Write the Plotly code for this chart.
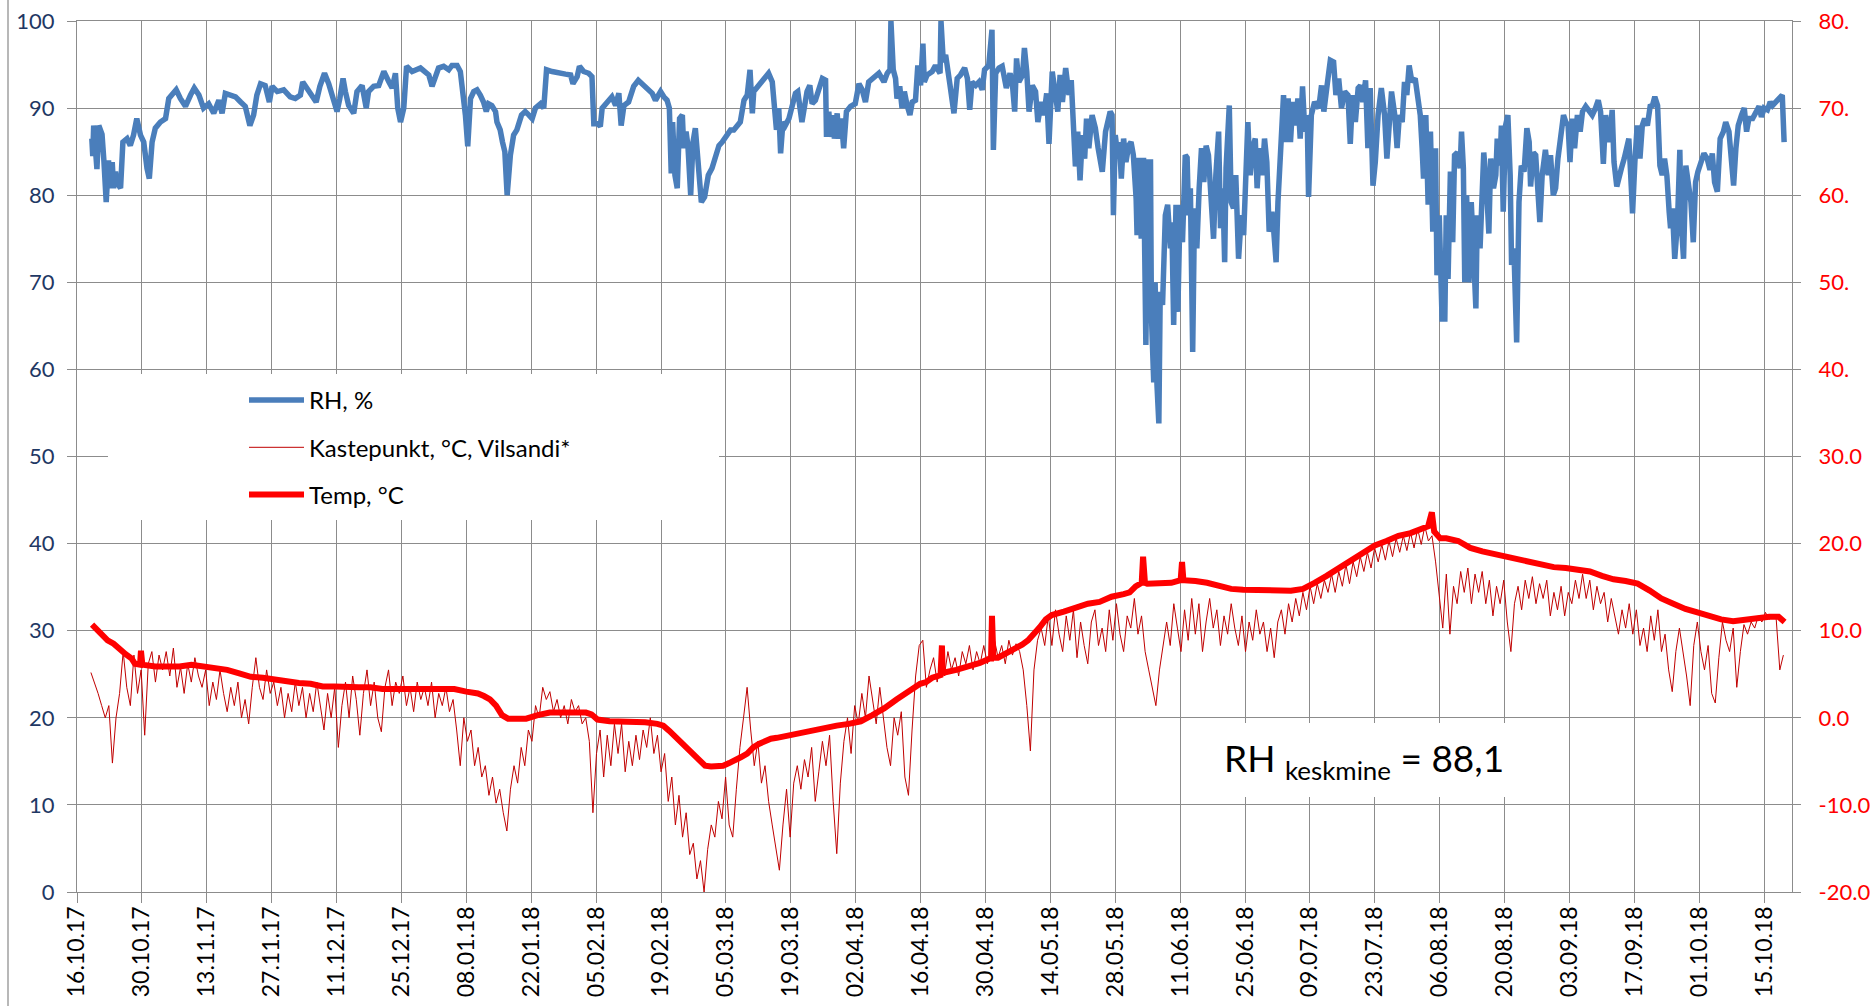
import pandas as pd
import plotly.graph_objects as go

START = "2017-10-16"
END = "2018-10-21"

# ---- RH, % (left axis) : day offset from 16.10.17, value ----
rh_day = [3.2, 3.4, 3.6, 4.3, 4.7, 5.4, 5.8, 6.3, 6.8, 7.2, 7.6, 7.9, 8.3, 8.6, 9.4, 9.9, 10.8, 11.5, 12.2, 12.9,
          13.7, 14.4, 15.1, 15.6, 16.2, 16.9, 18.0, 19.1, 19.8, 20.5, 21.4, 22.3, 23.4, 24.5, 25.3, 26.3, 27.3,
          28.4, 29.5, 30.6, 31.3, 32.0, 33.1, 34.2, 35.3, 36.3, 37.3, 38.1, 38.8, 39.6, 40.6, 41.5, 42.1, 43.2,
          44.6, 46.0, 47.1, 48.2, 48.7, 49.6, 50.4, 51.6, 52.4, 53.4, 54.3, 55.4, 56.1, 56.7, 57.4, 57.9, 58.6,
          59.7, 60.4, 61.5, 62.4, 62.9, 64.0, 65.1, 66.2, 67.3, 68.0, 68.7, 69.2, 69.8, 70.5, 71.1, 72.3,
          74.1, 75.2, 75.9, 76.6, 77.3, 78.0, 79.1, 80.2, 80.9, 82.0, 82.7, 83.4, 83.8, 84.3, 84.9, 85.6, 86.3,
          87.0, 87.7, 88.3, 88.8, 89.5, 90.3, 90.6, 91.3, 91.8, 92.3, 92.8, 93.5, 94.2, 94.9, 95.9, 96.7, 97.5,
          98.2, 98.9, 100.0, 100.7, 101.3, 102.5, 103.9, 105.4, 106.5, 107.0, 107.9, 108.4, 109.3, 110.4, 111.1,
          111.5, 112.4, 112.9, 113.3, 114.4, 115.4, 116.2, 116.9, 117.4, 118.0, 119.0, 120.1, 121.1, 121.9,
          123.0, 124.1, 124.8, 125.9, 126.6, 127.3, 127.8, 128.2, 128.5, 129.0, 129.5, 130.0, 130.6, 130.9,
          131.4, 131.8, 132.4, 132.9, 133.4, 134.0, 134.7, 135.4, 136.2, 137.0, 137.7, 138.5, 139.2, 140.3,
          141.0, 141.7, 142.4, 143.1, 143.9, 144.6, 145.2, 145.7, 146.0, 147.1,
          148.2, 149.2, 150.0, 150.5, 150.9, 151.4, 151.8, 152.3, 152.8, 153.6, 154.3, 155.0, 155.5, 156.1,
          156.4, 156.9, 157.5, 158.1, 158.6, 159.3, 160.0, 160.8, 161.5, 161.7, 162.2, 162.6, 163.1, 163.4,
          164.0, 164.4, 164.9, 165.4, 166.0, 166.9, 167.9, 168.7, 169.4, 170.1, 170.8, 171.9, 173.0, 174.1,
          174.8, 175.4, 175.6, 176.1, 176.6, 176.9, 177.5, 178.0, 178.5, 179.1, 179.7, 180.2, 180.9, 181.4,
          182.0, 182.5, 182.8, 183.4, 184.5, 185.2, 186.2, 186.4, 186.9, 187.4, 187.9, 188.3, 189.2, 189.9,
          190.6, 191.5, 192.1, 192.6, 193.1, 193.9, 194.6, 195.3, 195.8, 196.7, 197.4, 197.7, 198.2, 198.9,
          199.6, 200.5, 201.3, 201.8, 202.3, 202.7, 203.2, 204.0, 204.4, 204.9, 205.4, 206.1, 206.8, 207.3,
          208.0, 208.6, 209.2, 209.7, 210.4, 211.1, 211.6, 212.1, 212.6, 213.3, 214.0, 214.5, 215.1, 215.4,
          215.9, 216.4, 216.9, 217.4, 217.8, 218.3, 219.0, 219.7, 220.3, 220.7, 221.2, 221.9, 222.6,
          222.9, 223.3, 223.6, 224.0, 224.6, 224.9, 225.3, 225.8, 226.3, 226.9, 227.4, 227.9, 228.5, 228.7,
          229.0, 229.6, 230.1, 230.6, 231.1, 231.6, 231.8, 232.3, 232.6, 233.0, 233.4, 233.7, 234.2, 234.8,
          235.3, 235.9, 236.2, 236.6, 237.1, 237.5, 238.0, 238.5, 239.1, 239.5, 239.8, 240.2, 240.7, 241.1,
          241.6, 242.1, 242.6, 243.1, 243.6, 244.1, 244.7, 245.2, 245.7, 246.3, 246.7, 247.2, 247.6, 247.9,
          248.6, 249.0, 249.5, 250.0, 250.6, 251.2, 251.7, 252.2, 252.6, 253.1, 253.6, 254.2, 254.6, 255.1,
          255.7, 256.2, 256.7, 257.2, 257.8, 258.2, 258.7, 259.1, 259.6, 260.3, 260.7, 261.3, 261.8, 262.3,
          262.8, 263.4, 263.9, 264.4, 264.9, 265.4, 265.7, 266.3, 267.0, 267.9, 268.5, 269.0, 269.7, 270.4,
          271.1, 271.6, 272.2, 272.8, 273.5, 274.2, 274.7, 275.2, 275.8, 276.4, 276.9, 277.4, 278.0, 278.5,
          279.0, 279.6, 280.1, 280.7, 281.4, 282.1, 282.6, 283.1, 283.6, 284.3, 284.8, 285.3, 285.9, 286.4,
          286.9, 287.4, 288.0, 288.7, 289.3, 289.8, 290.2, 290.5, 291.0, 291.5, 292.0, 292.5, 293.1, 293.4,
          293.9, 294.5, 295.1, 295.4, 295.8, 296.3, 296.8, 297.2,
          297.8, 298.4, 298.7, 299.1, 299.4, 299.8, 300.3, 300.8, 301.2, 301.8, 302.1, 302.7, 303.2, 303.5,
          304.1, 304.6, 305.0, 305.6, 306.1, 306.4, 307.0, 307.3, 307.7, 308.2, 308.7, 309.2, 309.5, 310.0,
          310.6, 311.1, 311.6, 312.2, 312.8, 313.3, 313.6, 314.2, 314.7, 315.2, 315.6, 316.1, 316.8, 317.4,
          317.9, 318.5, 319.0, 319.5, 320.1, 320.7, 321.2, 321.7, 322.1, 322.6, 323.1, 323.7, 324.3, 324.8,
          325.5, 326.2, 326.9, 327.6, 328.2, 328.7, 329.3, 329.8, 330.3, 330.7, 331.2, 331.6, 332.2, 332.7,
          333.2, 333.8, 334.3, 334.8, 335.2, 335.6, 336.1, 336.6, 337.2, 337.7, 338.2, 338.8, 339.4, 339.9,
          340.4, 341.0, 341.5, 342.0, 342.5, 343.0, 343.5, 343.8, 344.2, 344.7, 345.3, 345.8, 346.1, 346.6,
          347.1, 347.6, 348.2, 348.7, 349.2, 349.7, 350.3, 351.0, 351.7, 352.3, 352.8, 353.3, 353.9, 354.5,
          355.2, 355.7, 356.4, 356.9, 357.4, 357.9, 358.4, 359.1, 359.7, 360.2, 360.7, 361.5, 362.2, 362.9,
          363.4, 364.0, 364.7, 365.3, 365.8, 366.5, 367.2, 367.9, 368.3]
rh_val = [86.5, 84.5, 88.0, 83.0, 88.0, 87.0, 84.0, 79.2, 84.0, 80.8, 83.8, 80.8, 82.7, 81.5, 80.8, 86.1, 86.5,
          85.7, 86.9, 88.8, 86.9, 86.1, 83.1, 81.9, 86.1, 87.7, 88.4, 88.8, 91.1, 91.5, 92.1, 91.1, 90.2, 91.5,
          92.3, 91.5, 90.0, 90.5, 89.4, 90.9, 89.4, 91.7, 91.5, 91.3, 90.7, 90.2, 88.0, 89.2, 91.5, 92.8, 92.6,
          90.7, 92.5, 91.9, 92.1, 91.3, 91.1, 91.5, 93.0, 92.3, 91.7, 90.7, 92.5, 94.0, 92.8, 90.7, 89.6, 91.1,
          93.4, 91.9, 90.3, 89.4, 91.9, 92.6, 90.0, 91.9, 92.5, 92.6, 94.2, 93.0, 92.3, 94.0, 90.0, 88.4, 90.0,
          94.8, 94.2,
          94.6, 94.2, 93.8, 92.5, 93.8, 94.6, 94.8, 94.4, 94.9, 94.9, 94.2, 91.5, 89.2, 85.6, 91.1, 91.9, 92.1,
          91.5, 90.7, 89.6, 90.5, 90.3, 89.6, 88.4, 87.5, 86.1, 85.0, 80.0, 84.6, 86.9, 87.5, 89.2, 89.6, 89.2,
          88.8, 90.0, 90.5, 90.0, 94.4, 94.2, 94.0, 93.9, 93.8, 92.8, 93.6, 94.8, 94.2, 94.0, 93.6, 88.2, 88.2,
          87.9, 90.0, 90.7, 91.3, 90.3, 91.7, 88.0, 90.3, 90.7, 92.5, 93.2, 92.8, 92.1, 91.7, 90.9, 91.9, 91.3,
          90.9, 90.0, 82.5, 88.4, 82.3, 80.8, 88.8, 89.2, 85.4, 87.3, 85.7, 80.0, 86.1, 87.7, 83.8, 79.2, 79.8,
          82.3, 83.1, 84.2, 85.7, 86.1, 86.9, 87.5, 87.5, 87.9, 88.4, 90.9, 91.5, 94.4, 89.4, 91.9, 92.6,
          93.4, 94.0, 93.0, 90.0, 87.5, 90.0, 84.8, 88.4, 88.0, 88.8, 90.0, 91.7, 91.9, 88.8, 88.4, 90.0, 91.9,
          92.6, 90.5, 90.9, 92.3, 93.4, 93.2, 86.7, 89.6, 86.7, 89.2, 86.5, 89.4, 86.5, 88.8, 85.4, 89.6, 90.2,
          90.5, 92.8, 92.1, 90.7, 93.0, 93.6, 94.0, 93.0, 94.0, 94.4, 100.0, 94.4, 93.4, 91.1, 92.5, 90.0, 91.9,
          90.3, 89.2, 90.7, 90.9, 94.9, 92.6, 97.4, 93.0, 93.8, 94.2, 94.9, 94.0, 100.0, 95.3, 96.1, 94.6, 92.8,
          89.4, 93.4, 93.8, 94.6, 93.4, 89.8, 93.0, 92.6, 93.0, 92.1, 94.4, 94.9, 99.0, 85.2, 94.0, 94.6, 94.8,
          92.3, 94.0, 92.8, 89.6, 95.7, 93.0, 93.8, 96.9, 94.2, 89.6, 92.6, 91.9, 88.4, 90.7, 89.2, 91.7, 85.9,
          94.2, 91.9, 89.6, 93.8, 90.7, 94.6, 91.5, 93.2, 85.6, 83.3, 87.3, 81.7, 86.9, 84.2, 88.8, 85.4, 89.2,
          87.7, 85.4, 83.8, 82.7, 87.3, 89.2,
          89.6, 89.2, 77.7, 86.9, 84.2, 86.1, 81.9, 86.5, 83.8, 85.7, 86.1, 84.6, 79.6, 75.4, 84.3, 75.0, 84.3,
          62.8, 83.8, 83.8, 66.2, 58.5, 70.0, 58.2, 53.8, 68.9, 67.4, 77.7, 78.9, 73.9, 76.9, 65.1, 78.9, 66.6,
          78.9, 74.6, 84.6, 84.3, 77.7, 80.8, 62.0, 78.5, 73.9, 80.8, 85.4, 81.5, 85.7, 84.6, 80.0, 75.0, 82.3,
          87.3, 76.2, 80.8, 72.3, 83.1, 90.3, 79.2, 78.5, 82.3, 72.7, 77.7, 75.4, 85.4, 88.4, 82.3, 85.4, 86.5,
          80.8, 85.4, 82.3, 86.5, 83.8, 75.8, 78.1, 75.8, 72.3, 79.2, 84.2, 91.5, 86.1, 91.1, 86.1, 90.7, 88.0,
          91.1, 86.5, 92.5, 87.3, 89.2, 79.8, 89.2, 90.7, 90.0, 92.6, 89.6, 92.6, 95.5, 95.3, 91.5, 93.4, 90.0,
          91.9, 91.5, 85.9, 91.5, 88.4, 92.3, 92.6, 90.7, 93.2, 85.4, 92.3, 81.1, 83.8, 89.2, 92.3, 89.2, 84.2,
          89.6, 91.9, 89.2, 85.4, 89.2, 88.4, 93.0, 91.5, 94.9, 93.0, 93.4, 90.7, 89.2, 85.4, 81.9, 89.2, 78.9,
          87.3, 75.8, 85.4, 70.8, 77.7, 65.8, 65.8, 77.7, 70.4, 82.7, 74.6, 84.6,
          84.9, 83.1, 87.3, 83.1, 70.0, 80.0, 70.0, 79.2, 74.6, 67.0, 77.7, 73.9, 80.8, 84.9, 80.8, 75.6, 84.2,
          80.8, 82.3, 86.5, 83.4, 88.0, 78.1, 88.0, 89.2, 82.3, 72.0, 73.9, 63.1, 79.2, 83.4, 82.7, 87.7, 86.1,
          81.0, 84.9, 84.6, 81.1, 76.9, 82.3, 85.2, 82.3, 84.6, 80.0, 80.8, 84.2, 87.3, 89.2, 88.4, 88.0, 83.8,
          88.8, 85.4, 89.2, 87.3, 89.6, 90.2, 89.8, 89.2, 90.0, 90.9, 89.6, 83.6, 89.2, 86.9, 86.1, 89.8, 83.8,
          81.0, 82.3, 83.1, 84.2, 85.4, 86.5, 82.3, 77.9, 83.8, 88.0, 84.2, 88.0, 88.8, 88.0, 90.2, 90.3, 91.3,
          90.3, 83.4, 82.3, 84.2, 82.3, 78.1, 76.2, 78.5, 72.7, 76.9, 85.2, 76.9, 72.7, 83.4, 81.1, 79.2, 74.6,
          81.5, 82.7, 83.8, 84.8, 84.2, 82.9, 84.8, 81.5, 80.4, 86.5, 87.3, 88.4, 87.3, 84.6, 81.1, 85.4, 88.0,
          89.2, 90.0, 87.3, 88.8, 88.8, 89.6, 90.2, 89.0, 90.0, 89.8, 90.7, 90.3, 90.7, 91.3, 91.5, 86.1]

# ---- Temp, °C (right axis) : day offset, value ----
temp_day = [3.25, 4.0, 5.3, 6.6, 7.9, 9.2, 10.5, 11.8, 12.5, 13.6, 13.8, 14.1, 16.9, 19.5, 22.1, 24.7, 27.2,
            29.8, 32.4, 35.0, 37.5, 40.1, 42.7, 45.3, 47.9, 50.4, 53.0, 55.6, 58.2, 60.8, 63.3, 65.9, 68.5,
            71.1, 73.7, 76.2, 78.8, 81.4, 84.0, 86.5, 87.8, 89.1, 90.4, 91.7, 93.0, 94.3, 96.9, 99.4, 102.0,
            104.6, 107.2, 109.8, 111.0, 112.3, 114.9, 117.5, 120.1, 122.6, 125.2, 126.5, 127.8, 129.1, 130.4,
            131.7, 133.0, 134.2, 135.5, 136.8, 138.1, 139.4, 140.7, 142.0, 143.3, 144.6, 145.9, 147.1, 148.4,
            149.7, 151.0, 153.6, 156.2, 158.7, 161.3, 163.9, 166.5, 169.1, 171.6, 174.2, 176.8, 179.4, 180.7,
            181.9, 183.2, 184.5, 185.8, 186.3, 186.6, 186.8, 187.1, 189.7, 192.3, 194.8, 196.9, 197.2, 197.4,
            197.7, 198.7, 201.3, 203.9, 205.2, 206.5, 207.7, 209.0, 210.3, 212.9, 215.5, 218.1, 220.6, 223.2,
            225.8, 227.1, 228.4, 229.7, 230.0, 230.4, 230.9, 233.5, 236.1, 238.1, 238.4, 238.7, 240.0, 241.3,
            243.8, 246.4, 249.0, 251.6, 254.2, 256.7, 259.3, 261.9, 264.5, 265.8, 267.0, 269.6, 272.2, 274.8,
            277.4, 280.0, 282.5, 285.1, 287.7, 290.3, 291.5, 292.3, 292.8, 294.1, 295.4, 298.0, 300.6, 303.2,
            305.7, 308.3, 310.9, 313.5, 316.1, 318.6, 321.2, 323.8, 326.4, 329.0, 331.5, 334.1, 336.7, 339.3,
            341.8, 344.4, 347.0, 349.6, 352.1, 354.7, 357.3, 359.9, 362.5, 365.1, 367.1, 368.4]
temp_val = [10.7, 10.3, 9.6, 8.9, 8.5, 7.8, 7.3, 6.8, 6.2, 6.1, 7.7, 6.1, 5.9, 5.9, 5.9, 6.1, 5.9,
            5.8, 5.5, 5.1, 4.7, 4.6, 4.4, 4.1, 4.0, 3.9, 3.6, 3.6, 3.5, 3.5, 3.5, 3.3, 3.3,
            3.3, 3.3, 3.3, 3.3, 3.3, 3.0, 2.8, 2.5, 2.1, 1.4, 0.3, -0.1, -0.1, -0.1, 0.3, 0.6,
            0.6, 0.6, 0.6, 0.4, -0.2, -0.4, -0.4, -0.4, -0.5, -0.7, -0.9, -1.5, -2.2, -2.7,
            -3.4, -4.1, -4.9, -5.5, -5.6, -5.6, -5.5, -5.2, -4.9, -4.5, -4.1, -3.4, -3.0, -2.7,
            -2.4, -2.3, -2.0, -1.8, -1.4, -1.1, -0.9, -0.7, -0.4, 0.3, 1.1, 2.1, 3.0, 3.6,
            3.9, 4.1, 4.6, 4.8, 4.9, 8.3, 5.0, 5.2, 5.5, 5.9, 6.3, 6.8, 6.8, 11.7,
            6.9, 6.9, 7.6, 8.4, 8.9, 9.6, 10.4, 11.3, 11.8, 12.2, 12.6, 13.1, 13.3, 13.9,
            14.2, 14.4, 15.1, 15.5, 18.5, 15.5, 15.4, 15.4, 15.5, 15.8, 17.9, 15.8, 15.8, 15.7,
            15.5, 15.2, 14.8, 14.7, 14.7, 14.6, 14.6, 14.6, 14.8, 15.1, 15.5, 16.3, 17.2, 18.1,
            19.0, 19.8, 20.3, 20.9, 21.2, 21.7, 22.0, 23.6, 21.4, 20.6, 20.6, 20.3, 19.5, 19.1,
            18.8, 18.4, 18.1, 17.9, 17.6, 17.3, 17.2, 17.0, 16.8, 16.3, 15.9, 15.7, 15.4, 14.6,
            13.7, 13.1, 12.5, 12.1, 11.7, 11.3, 11.1, 11.3, 11.4, 11.6, 11.6, 11.0]

# ---- Kastepunkt, °C, Vilsandi* (right axis) : regular readings from 19.10.17, every 1114 min ----
DEW_START = "2017-10-19 00:00"
DEW_STEP = "1114min"
dew_val = [5.2, 4.1, 2.8, 1.4, 0.0, 1.4, -5.2, 0.0, 2.8, 7.6, 3.5, 1.4, 7.2, 2.8, 5.5, -2.0, 6.2, 7.6, 4.1,
           7.2, 5.5, 7.6, 4.8, 8.0, 3.5, 5.8, 2.8, 6.2, 4.1, 6.9, 4.8, 3.5, 5.5, 1.4, 4.1, 2.1, 5.5, 2.8,
           0.7, 3.5, 1.4, 4.1, 0.0, 2.1, -0.7, 3.5, 6.9, 3.5, 2.1, 5.5, 2.8, 4.1, 1.4, 3.5, 0.0, 2.8, 0.7,
           4.1, 1.4, 3.5, 0.0, 2.8, 0.7, 4.1, 1.4, -1.4, 2.8, 0.0, 3.5, -3.4, 1.4, 4.1, 0.0, 4.8, 2.1,
           -2.0, 2.8, 5.5, 1.4, 4.1, 0.0, -1.6, 3.5, 5.5, 1.4, 4.1, 2.8, 4.8, 1.4, 3.5, 0.7, 4.1, 2.1,
           3.5, 1.4, 4.1, 0.0, 2.8, 1.4, 3.5, 0.7, 2.1, -1.4, -5.5, 0.0, -2.7, -1.4, -5.5, -3.4, -6.8,
           -5.5, -8.9, -6.8, -9.8, -8.2, -10.9, -13.0, -8.2, -5.5, -7.5, -3.4, -5.5, -1.4, -2.7, 1.4, 0.0,
           3.5, 2.1, 3.0, 0.7, 2.1, 0.0, 1.4, -0.7, 2.1, 0.7, 1.4, -0.7, 0.0, -2.7, -10.9, -4.1, -1.4,
           -6.8, -2.0, -5.5, -0.7, -4.1, -0.7, -6.2, -2.7, -5.5, -2.0, -4.8, -1.4, -3.4, 0.0, -4.1, -2.0,
           -6.2, -4.1, -9.6, -6.8, -12.3, -8.9, -13.7, -10.9, -15.7, -14.4, -18.5, -16.4, -20.0, -15.1,
           -12.3, -13.7, -9.6, -11.6, -6.8, -12.3, -13.7, -8.2, -3.4, 0.0, 3.5, -1.4, -5.5, -2.7, -7.5,
           -5.5, -9.6, -12.3, -15.1, -17.5, -12.3, -8.2, -13.7, -7.5, -5.5, -8.2, -4.8, -6.8, -3.4, -9.6,
           -6.2, -2.7, -5.5, -2.0, -9.6, -15.6, -7.5, -2.7, 0.0, -4.1, 1.4, -0.7, 2.8, 0.0, 4.8, 2.1,
           -0.7, 3.5, 0.0, -3.4, -5.5, 0.0, -2.0, 0.7, -6.8, -8.9, -1.4, 4.8, 8.3, 8.9, 3.5, 5.5, 6.9,
           4.1, 6.2, 4.8, 7.6, 5.5, 6.9, 4.8, 7.6, 6.2, 8.3, 5.5, 7.6, 6.2, 8.3, 6.2, 7.6, 8.9, 6.9, 8.3,
           6.2, 8.9, 7.2, 8.5, 7.6, 5.5, 1.4, -3.8, 5.5, 8.9, 10.3, 8.3, 11.7, 8.3, 12.4, 9.6, 7.6, 11.7,
           8.9, 12.4, 6.9, 11.0, 8.3, 6.2, 11.0, 12.4, 8.3, 10.3, 7.6, 12.4, 8.9, 13.1, 9.6, 7.6, 11.7,
           10.3, 13.7, 9.6, 11.7, 7.6, 5.5, 3.5, 1.4, 5.5, 8.3, 11.0, 8.3, 13.1, 10.3, 7.6, 12.4, 8.9,
           13.7, 9.6, 13.1, 7.6, 11.0, 13.7, 10.3, 12.4, 8.3, 11.7, 9.6, 13.1, 10.3, 8.3, 11.7, 7.6, 11.0,
           8.9, 12.4, 9.6, 11.0, 7.6, 10.3, 6.9, 11.0, 12.4, 9.6, 13.1, 11.0, 13.7, 11.7, 14.4, 12.4,
           15.1, 13.1, 15.4, 13.7, 15.8, 14.4, 16.5, 14.4, 16.8, 15.1, 17.6, 15.4, 17.9, 16.2, 18.5,
           16.8, 19.0, 17.2, 19.5, 17.9, 19.9, 18.1, 20.3, 18.5, 20.6, 19.0, 20.9, 19.2, 21.3, 19.5,
           21.7, 19.9, 22.0, 20.3, 20.9, 17.9, 14.4, 10.3, 16.5, 9.6, 15.1, 13.1, 16.8, 14.4, 17.2,
           13.1, 16.5, 14.4, 16.8, 13.1, 15.8, 11.7, 15.1, 13.1, 15.8, 11.0, 7.6, 13.1, 15.1, 12.4, 15.8,
           13.7, 16.2, 13.1, 15.4, 13.7, 15.8, 11.7, 14.4, 12.4, 15.1, 11.7, 14.4, 13.1, 15.8, 13.7,
           16.5, 13.7, 15.8, 12.4, 15.1, 13.1, 14.4, 11.0, 13.7, 11.7, 9.6, 12.4, 10.3, 13.1, 9.6, 12.4,
           8.3, 10.3, 7.6, 11.7, 8.9, 12.4, 7.6, 9.6, 5.5, 3.0, 7.6, 10.3, 7.6, 4.8, 1.4, 8.3, 11.0, 7.6,
           5.5, 8.3, 2.8, 1.7, 6.9, 11.0, 8.9, 7.6, 10.3, 3.5, 7.6, 10.7, 9.6, 11.0, 10.3, 11.7, 11.0,
           12.1, 11.3, 11.7, 11.3, 5.5, 7.2]

# ---- axis ticks ----
tick_dates = pd.date_range(START, "2018-10-15", freq="14D")
tick_text = [d.strftime("%d.%m.%y") for d in tick_dates]
y1_vals = list(range(0, 101, 10))
y2_vals = [-20, -10, 0, 10, 20, 30, 40, 50, 60, 70, 80]
y2_text = ["-20.0", "-10.0", "0.0", "10.0", "20.0", "30.0", "40.", "50.", "60.", "70.", "80."]


def to_dates(days):
    return pd.Timestamp(START) + pd.to_timedelta(days, unit="D")


dew_time = pd.date_range(DEW_START, periods=len(dew_val), freq=DEW_STEP)

FONT = "Lato"
GRID = "#8c8c8c"
W, H = 1874, 1006
ML, MR, MT, MB = 77, 82, 21, 114
PW, PH = W - ML - MR, H - MT - MB


def px(x):
    return (x - ML) / PW


def py(y):
    return (H - MB - y) / PH


fig = go.Figure()
fig.add_trace(go.Scatter(x=to_dates(rh_day), y=rh_val, name="RH, %", mode="lines",
                         line=dict(color="#4A7EBB", width=5.5), legendgroup="a", yaxis="y"))
fig.add_trace(go.Scatter(x=dew_time, y=dew_val, name="Kastepunkt, °C, Vilsandi*", mode="lines",
                         line=dict(color="#C00000", width=1), legendgroup="b", yaxis="y2"))
fig.add_trace(go.Scatter(x=to_dates(temp_day), y=temp_val, name="Temp, °C", mode="lines",
                         line=dict(color="#FF0000", width=6), legendgroup="c", yaxis="y2"))

fig.update_layout(
    width=W, height=H,
    margin=dict(l=ML, r=MR, t=MT, b=MB, pad=0, autoexpand=False),
    paper_bgcolor="white", plot_bgcolor="white",
    font=dict(family=FONT, size=21, color="black"),
    showlegend=True,
    legend=dict(x=px(244), y=py(378), xanchor="left", yanchor="top",
                bgcolor="rgba(0,0,0,0)", font=dict(size=24, color="black"),
                traceorder="grouped", tracegroupgap=13, itemwidth=55),
    xaxis=dict(type="date", range=[START, END], tickmode="array", tickvals=tick_dates, ticktext=tick_text,
               tickangle=-90, showgrid=True, gridcolor=GRID, gridwidth=1.3, automargin=False,
               showline=True, linecolor=GRID, linewidth=1.3, mirror=True,
               ticks="outside", ticklen=10, tickcolor=GRID, tickwidth=1.3, ticklabelstandoff=-6,
               tickfont=dict(size=23, color="black"), zeroline=False),
    yaxis=dict(range=[0, 100], tickmode="array", tickvals=y1_vals, showgrid=True, gridcolor=GRID,
               gridwidth=1.3, showline=True, linecolor=GRID, linewidth=1.3, automargin=False,
               ticks="outside", ticklen=9, tickcolor=GRID, tickwidth=1.3, ticklabelstandoff=8,
               ticklabeloverflow="allow",
               tickfont=dict(size=22, color="#1F3864"), zeroline=False),
    yaxis2=dict(range=[-20, 80], overlaying="y", side="right", tickmode="array", tickvals=y2_vals,
                ticktext=y2_text, showgrid=False, showline=True, linecolor=GRID, linewidth=1.3,
                automargin=False,
                ticks="outside", ticklen=8, tickcolor=GRID, tickwidth=1.3, ticklabelstandoff=13,
                ticklabeloverflow="allow",
                tickfont=dict(size=22, color="#FF0000"), zeroline=False),
    shapes=[
        # legend box and text box (white, covering gridlines)
        dict(type="rect", xref="paper", yref="paper", x0=px(108), x1=px(719), y0=py(520), y1=py(374),
             fillcolor="white", line=dict(width=0), layer="above"),
        dict(type="rect", xref="paper", yref="paper", x0=px(1195), x1=px(1565), y0=py(797), y1=py(723),
             fillcolor="white", line=dict(width=0), layer="above"),
        # chart-area border on the left
        dict(type="line", xref="paper", yref="paper", x0=px(8), x1=px(8), y0=py(H), y1=py(0),
             line=dict(color="#a0a0a0", width=1.5), layer="above"),
    ],
    annotations=[
        dict(text="RH <sub>keskmine</sub> = 88,1", xref="paper", yref="paper", x=px(1222), y=py(760),
             xanchor="left", yanchor="middle", showarrow=False, font=dict(size=37, color="black")),
    ],
)

fig.write_html("out.html", config={"displayModeBar": False},
               post_script="document.body.style.margin='0';document.body.style.overflow='hidden';")
